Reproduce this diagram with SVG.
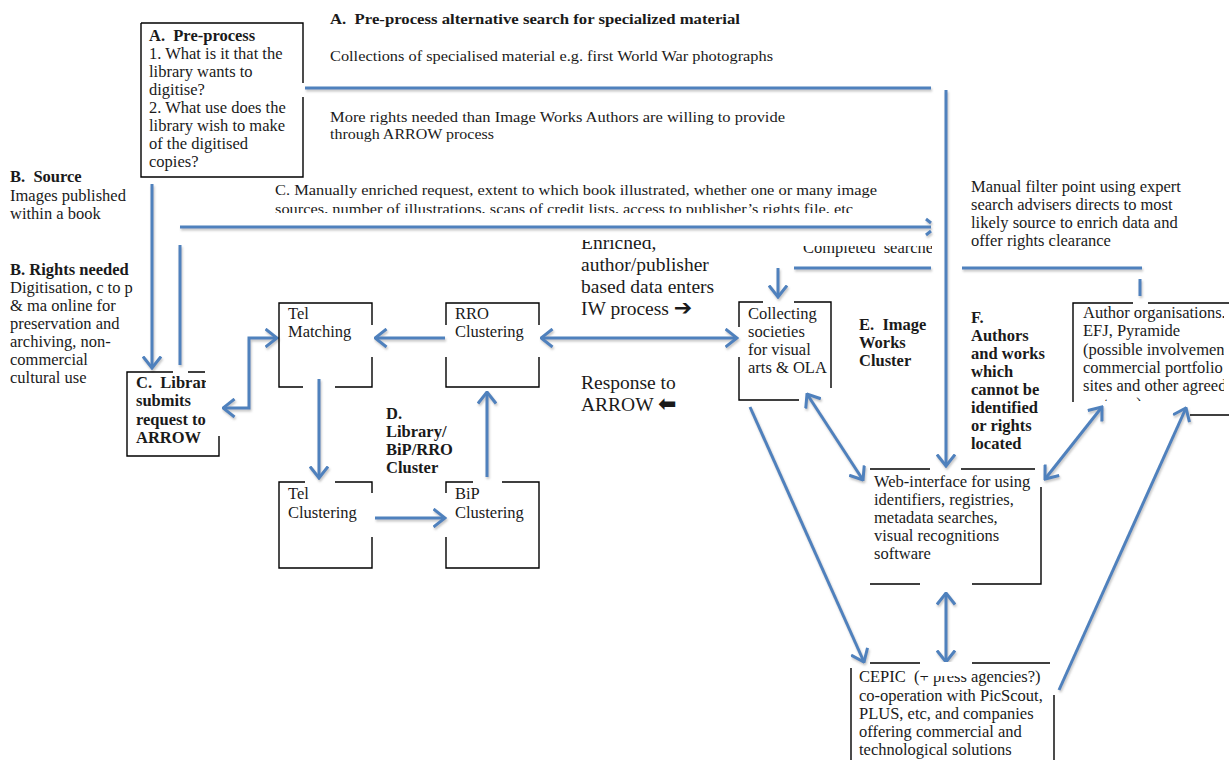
<svg xmlns="http://www.w3.org/2000/svg" width="1229" height="760" viewBox="0 0 1229 760">
<style>
.t{font-family:"Liberation Serif","DejaVu Serif",serif;font-size:16.5px;fill:#1a1a1a;white-space:pre}
.b{font-weight:bold}
.s15{font-size:15px}
.big{font-size:19.5px}
.bx{stroke:#000;stroke-width:1.4;fill:none}
.c{stroke:#4F81BD;stroke-width:3;fill:none;filter:url(#sh)}
.sym{font-family:"DejaVu Sans",sans-serif;font-weight:bold}
</style>
<defs>
<filter id="sh" filterUnits="userSpaceOnUse" x="0" y="0" width="1229" height="760">
<feDropShadow dx="1" dy="2" stdDeviation="1.2" flood-color="#888" flood-opacity="0.5"/>
</filter>
<marker id="ah" viewBox="0 0 14 20" refX="12.5" refY="10" markerWidth="14" markerHeight="20" markerUnits="userSpaceOnUse" orient="auto-start-reverse">
<path d="M1,1 L12.5,10 L1,19" fill="none" stroke="#4F81BD" stroke-width="3"/>
</marker>
<clipPath id="cLib"><rect x="120" y="360" width="86" height="100"/></clipPath>
<clipPath id="cEnr"><rect x="570" y="240" width="200" height="30"/></clipPath>
<clipPath id="cComp"><rect x="790" y="246" width="142" height="20"/></clipPath>
<clipPath id="cMan"><rect x="260" y="170" width="650" height="43"/></clipPath>
<clipPath id="cF"><rect x="960" y="395" width="79" height="25"/></clipPath>
<clipPath id="cAuth"><rect x="1075" y="300" width="149" height="101"/></clipPath>
</defs>
<rect width="1229" height="760" fill="#fff"/>

<g id="connectors">
<path class="c" d="M305,88 H931"/>
<path class="c" d="M946,90 V466" marker-end="url(#ah)"/>
<path class="c" d="M152,184 V368" marker-end="url(#ah)"/>
<path class="c" d="M180,245 V365"/>
<path class="c" d="M180,227 H931"/>
<path class="c" d="M926,219 L931,223 M926,235 L931,231"/>
<path class="c" d="M223,408 H249 V338 H277" marker-start="url(#ah)" marker-end="url(#ah)"/>
<path class="c" d="M445,338 H375" marker-end="url(#ah)"/>
<path class="c" d="M541,338 H737" marker-start="url(#ah)" marker-end="url(#ah)"/>
<path class="c" d="M319,379 V478" marker-end="url(#ah)"/>
<path class="c" d="M375,518 H445" marker-end="url(#ah)"/>
<path class="c" d="M487,477 V392" marker-end="url(#ah)"/>
<path class="c" d="M794,268 H931"/>
<path class="c" d="M778,268 V297" marker-end="url(#ah)"/>
<path class="c" d="M962,268 H1142"/>
<path class="c" d="M1140,279 V296"/>
<path class="c" d="M807,394 L863,480" marker-start="url(#ah)" marker-end="url(#ah)"/>
<path class="c" d="M750,407 L864,662" marker-end="url(#ah)"/>
<path class="c" d="M946,593 V662" marker-start="url(#ah)" marker-end="url(#ah)"/>
<path class="c" d="M1045,479 L1102,407" marker-start="url(#ah)" marker-end="url(#ah)"/>
<path class="c" d="M1059,690 L1186,408" marker-end="url(#ah)"/>
</g>

<g id="preprocess">
<path class="bx" d="M141,23 V177 H303 V97 M303,83 V23 H141"/>
<text class="t b" x="149" y="41">A.  Pre-process</text>
<text class="t" x="149" y="59">1. What is it that the</text>
<text class="t" x="149" y="77">library wants to</text>
<text class="t" x="149" y="95">digitise?</text>
<text class="t" x="149" y="113">2. What use does the</text>
<text class="t" x="149" y="131">library wish to make</text>
<text class="t" x="149" y="149">of the digitised</text>
<text class="t" x="149" y="167">copies?</text>
</g>

<g id="alt-search">
<text class="t b s15" x="330" y="24" textLength="410" lengthAdjust="spacingAndGlyphs">A.  Pre-process alternative search for specialized material</text>
<text class="t s15" x="330" y="61" textLength="443" lengthAdjust="spacingAndGlyphs">Collections of specialised material e.g. first World War photographs</text>
<text class="t s15" x="330" y="122" textLength="455" lengthAdjust="spacingAndGlyphs">More rights needed than Image Works Authors are willing to provide</text>
<text class="t s15" x="330" y="139" textLength="164" lengthAdjust="spacingAndGlyphs">through ARROW process</text>
</g>

<g id="source">
<text class="t b" x="10" y="182">B.  Source</text>
<text class="t" x="10" y="201">Images published</text>
<text class="t" x="10" y="219">within a book</text>
</g>

<g id="rights">
<text class="t b" x="10" y="275">B. Rights needed</text>
<text class="t" x="10" y="293">Digitisation, c to p</text>
<text class="t" x="10" y="311">&amp; ma online for</text>
<text class="t" x="10" y="329">preservation and</text>
<text class="t" x="10" y="347">archiving, non-</text>
<text class="t" x="10" y="365">commercial</text>
<text class="t" x="10" y="383">cultural use</text>
</g>

<g id="manual-enriched">
<g clip-path="url(#cMan)">
<text class="t s15" x="275" y="195" textLength="602" lengthAdjust="spacingAndGlyphs">C. Manually enriched request, extent to which book illustrated, whether one or many image</text>
<text class="t s15" x="275" y="214" textLength="578" lengthAdjust="spacingAndGlyphs">sources, number of illustrations, scans of credit lists, access to publisher’s rights file, etc</text>
</g>
</g>

<g id="library">
<path class="bx" d="M173,372 H127 V456 H219 V436 M188,372 H205"/>
<g clip-path="url(#cLib)">
<text class="t b" x="136" y="388">C.  Library</text>
<text class="t b" x="136" y="406">submits</text>
<text class="t b" x="136" y="425">request to</text>
<text class="t b" x="136" y="443">ARROW</text>
</g>
</g>

<g id="tel-matching">
<path class="bx" d="M303,387 H279 V303 H372 V325 M372,357 V387 H335"/>
<text class="t" x="288" y="319">Tel</text>
<text class="t" x="288" y="337">Matching</text>
</g>

<g id="rro">
<path class="bx" d="M446,325 V303 H539 V325 M539,357 V387 H446 V357"/>
<text class="t" x="455" y="319">RRO</text>
<text class="t" x="455" y="337">Clustering</text>
</g>

<g id="tel-clustering">
<path class="bx" d="M305,482 H279 V568 H372 V537 M372,493 V482 H335"/>
<text class="t" x="288" y="499">Tel</text>
<text class="t" x="288" y="518">Clustering</text>
</g>

<g id="bip">
<path class="bx" d="M473,482 H446 V493 M446,537 V568 H539 V482 H502"/>
<text class="t" x="455" y="499">BiP</text>
<text class="t" x="455" y="518">Clustering</text>
</g>

<g id="cluster-d">
<text class="t b" x="386" y="419">D.</text>
<text class="t b" x="386" y="437">Library/</text>
<text class="t b" x="386" y="455">BiP/RRO</text>
<text class="t b" x="386" y="473">Cluster</text>
</g>

<g id="enriched">
<g clip-path="url(#cEnr)">
<text class="t big" x="581" y="249">Enriched,</text>
</g>
<text class="t big" x="581" y="271">author/publisher</text>
<text class="t big" x="581" y="293">based data enters</text>
<text class="t big" x="581" y="315">IW process <tspan class="sym" font-size="22">➔</tspan></text>
<text class="t big" x="581" y="389">Response to</text>
<text class="t big" x="581" y="411">ARROW <tspan class="sym" font-size="22">⬅</tspan></text>
</g>

<g id="completed">
<g clip-path="url(#cComp)">
<text class="t" x="803" y="253">Completed  searches</text>
</g>
</g>

<g id="manual-filter">
<text class="t" x="971" y="192">Manual filter point using expert</text>
<text class="t" x="971" y="210">search advisers directs to most</text>
<text class="t" x="971" y="228">likely source to enrich data and</text>
<text class="t" x="971" y="246">offer rights clearance</text>
</g>

<g id="collecting">
<path class="bx" d="M763,302 H739 V327 M739,357 V400 H799 M794,302 H831 V388"/>
<text class="t" x="748" y="319">Collecting</text>
<text class="t" x="748" y="337">societies</text>
<text class="t" x="748" y="355">for visual</text>
<text class="t" x="748" y="373">arts &amp; OLA</text>
</g>

<g id="cluster-e">
<text class="t b" x="859" y="330">E.  Image</text>
<text class="t b" x="859" y="348">Works</text>
<text class="t b" x="859" y="366">Cluster</text>
</g>

<g id="cluster-f">
<text class="t b" x="971" y="323">F.</text>
<text class="t b" x="971" y="341">Authors</text>
<text class="t b" x="971" y="359">and works</text>
<text class="t b" x="971" y="377">which</text>
<text class="t b" x="971" y="395">cannot be</text>
<g clip-path="url(#cF)">
<text class="t b" x="971" y="413">identified</text>
</g>
<text class="t b" x="971" y="431">or rights</text>
<text class="t b" x="971" y="449">located</text>
</g>

<g id="author-orgs">
<path class="bx" d="M1133,303 H1073 V402 M1148,303 H1229 M1190,415 H1229"/>
<g clip-path="url(#cAuth)">
<text class="t" x="1083" y="318">Author organisations.</text>
<text class="t" x="1083" y="336">EFJ, Pyramide</text>
<text class="t" x="1083" y="355">(possible involvement</text>
<text class="t" x="1083" y="373">commercial portfolio</text>
<text class="t" x="1083" y="391">sites and other agreed</text>
<text class="t" x="1083" y="409">partners)</text>
</g>
</g>

<g id="web-interface">
<path class="bx" d="M870,469 H930 M961,469 H1035 M1041,487 V584 H972 M920,584 H870"/>
<text class="t" x="874" y="487">Web-interface for using</text>
<text class="t" x="874" y="505">identifiers, registries,</text>
<text class="t" x="874" y="523">metadata searches,</text>
<text class="t" x="874" y="541">visual recognitions</text>
<text class="t" x="874" y="559">software</text>
</g>

<g id="cepic">
<path class="bx" d="M870,663 H920 M972,663 H1050 M851,668 V760 M1054,695 V760"/>
<text class="t" x="859" y="682">CEPIC  (+ press agencies?)</text>
<rect x="921" y="662" width="51" height="14" fill="#fff"/>
<text class="t" x="859" y="701">co-operation with PicScout,</text>
<text class="t" x="859" y="719">PLUS, etc, and companies</text>
<text class="t" x="859" y="737">offering commercial and</text>
<text class="t" x="859" y="755">technological solutions</text>
</g>
</svg>
